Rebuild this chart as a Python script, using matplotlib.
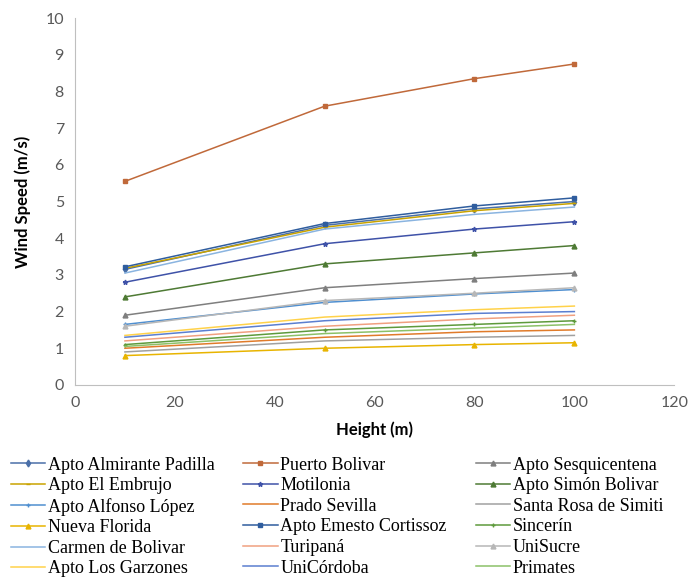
import matplotlib
matplotlib.use('Agg')
import matplotlib.pyplot as plt

heights = [10, 50, 80, 100]

names = ['Apto Almirante Padilla', 'Puerto Bolivar', 'Apto Sesquicentena',
         'Apto El Embrujo', 'Motilonia', 'Apto Simón Bolivar',
         'Apto Alfonso López', 'Prado Sevilla', 'Santa Rosa de Simiti',
         'Nueva Florida', 'Apto Emesto Cortissoz', 'Sincerín',
         'Carmen de Bolivar', 'Turipaná', 'UniSucre',
         'Apto Los Garzones', 'UniCórdoba', 'Primates']

almirante = [3.15, 4.35, 4.80, 5.00]
puerto_bolivar = [5.55, 7.60, 8.35, 8.75]
sesquicentena = [1.90, 2.65, 2.90, 3.05]
embrujo = [3.18, 4.30, 4.75, 4.95]
motilonia = [2.80, 3.85, 4.25, 4.45]
simon_bolivar = [2.40, 3.30, 3.60, 3.80]
alfonso_lopez = [1.65, 2.25, 2.48, 2.60]
prado_sevilla = [1.00, 1.30, 1.45, 1.50]
santa_rosa = [0.90, 1.20, 1.30, 1.35]
nueva_florida = [0.80, 1.00, 1.10, 1.15]
cortissoz = [3.22, 4.40, 4.88, 5.10]
sincerin = [1.10, 1.50, 1.65, 1.75]
carmen = [3.05, 4.25, 4.65, 4.85]
turipana = [1.20, 1.60, 1.80, 1.90]
unisucre = [1.60, 2.30, 2.50, 2.65]
garzones = [1.35, 1.85, 2.05, 2.15]
unicordoba = [1.30, 1.75, 1.95, 2.00]
primates = [1.05, 1.40, 1.55, 1.65]

series = [almirante, puerto_bolivar, sesquicentena, embrujo, motilonia,
          simon_bolivar, alfonso_lopez, prado_sevilla, santa_rosa,
          nueva_florida, cortissoz, sincerin, carmen, turipana, unisucre,
          garzones, unicordoba, primates]

colors = ['#4a6fa8', '#c0693a', '#7f7f7f', '#c9a300', '#3f52a8', '#4e7a34',
          '#4f8fd0', '#e07b2a', '#a0a0a0', '#e8b400', '#2f5d9e', '#5e9a3c',
          '#8ab4e0', '#f0a080', '#b7b7b7', '#ffd24a', '#5b7fd0', '#8cc168']
markers = ['d', 's', '^', '_', '*', '^', '+', '', '', '^', 's', '+',
           '', '', '^', '', '', '']

fig = plt.figure(figsize=(6.88, 5.85), dpi=100)
ax = fig.add_axes([0.109, 0.342, 0.871, 0.627])

for vals, name, c, m in zip(series, names, colors, markers):
    ax.plot(heights, vals, color=c, marker=m if m else None, markersize=3.5,
            linewidth=1.1, label=name)

ax.set_xlim(0, 120)
ax.set_ylim(0, 10)
ax.set_xticks(range(0, 121, 20))
ax.set_yticks(range(0, 11))
ax.tick_params(length=0, labelsize=11.5, labelcolor='#595959', pad=8)
for t in ax.get_xticklabels() + ax.get_yticklabels():
    t.set_family('Lato')
for s in ['top', 'right']:
    ax.spines[s].set_visible(False)
for s in ['left', 'bottom']:
    ax.spines[s].set_color('#bfbfbf')

ax.set_xlabel('Height (m)', fontsize=12, fontweight='bold', family='Lato',
              labelpad=8)
ax.set_ylabel('Wind Speed (m/s)', fontsize=12, fontweight='bold',
              family='Lato', labelpad=10)

# legend is filled row by row in the reference
h, l = ax.get_legend_handles_labels()
order = [i for c in range(3) for i in range(c, len(h), 3)]
fig.legend([h[i] for i in order], [l[i] for i in order],
           loc='upper left', bbox_to_anchor=(0.005, 0.232), ncol=3,
           frameon=False, prop={'family': 'Liberation Serif', 'size': 13},
           handlelength=1.9, handletextpad=0.15, columnspacing=1.6,
           labelspacing=0.2, borderaxespad=0)

plt.savefig('out.png')
plt.close()
